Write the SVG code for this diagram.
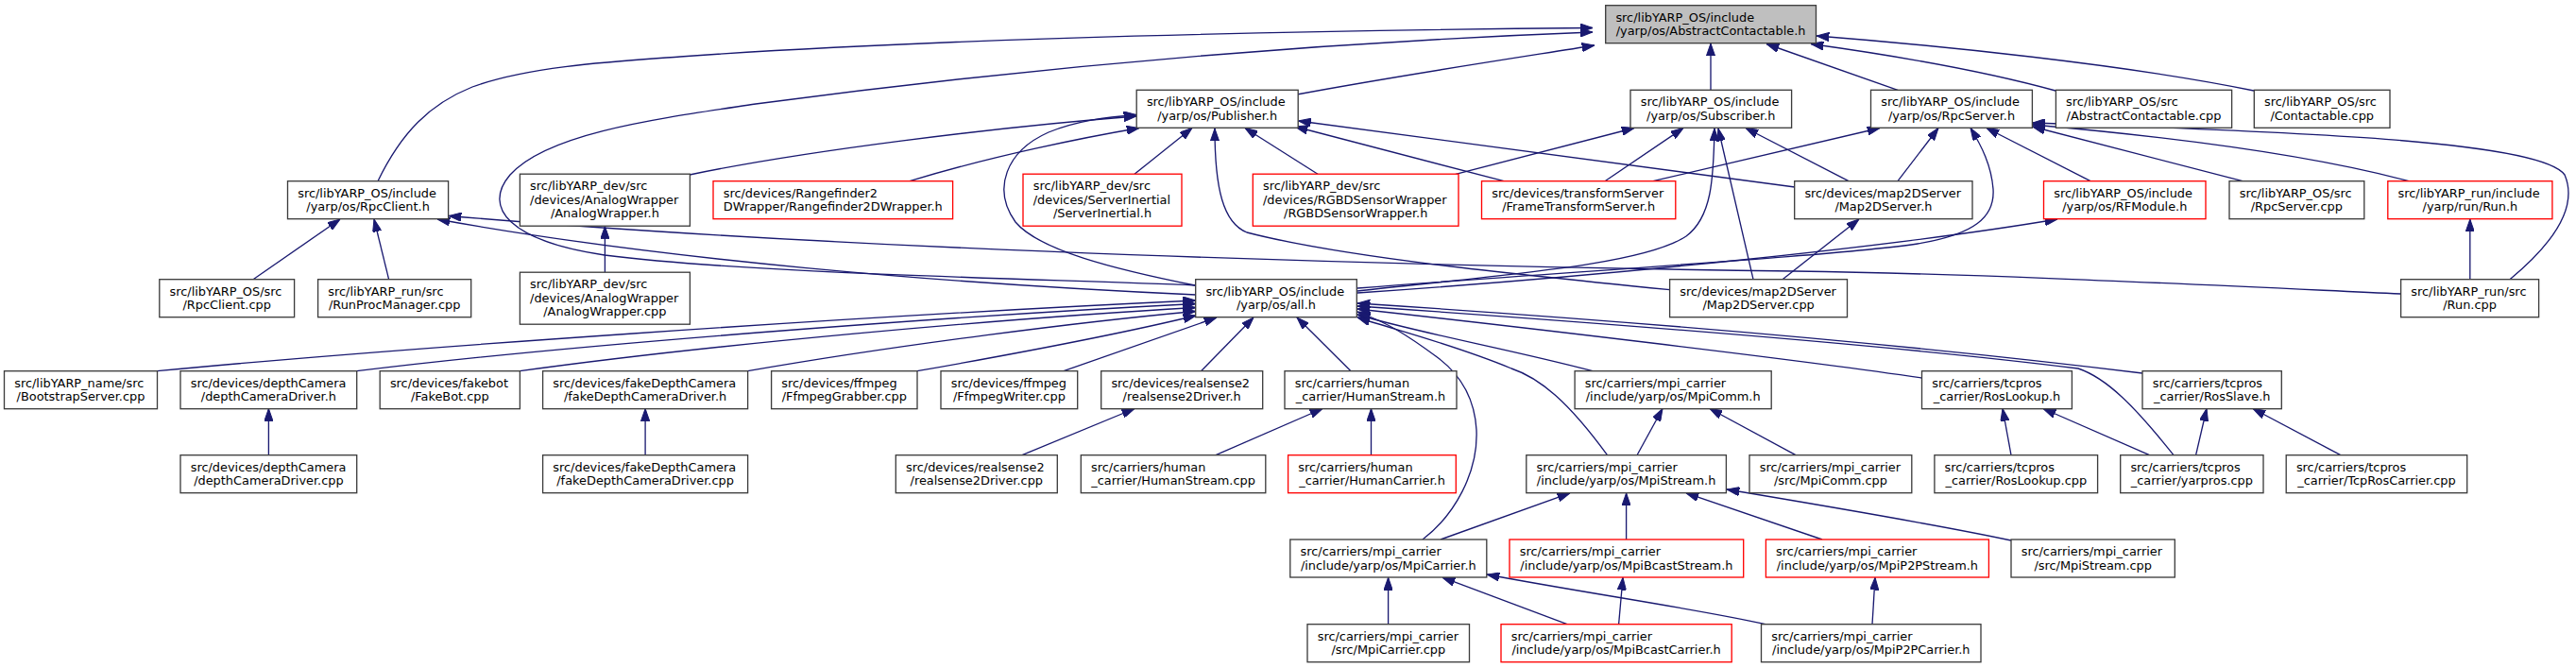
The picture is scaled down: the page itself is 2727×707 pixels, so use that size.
<svg xmlns="http://www.w3.org/2000/svg" width="2727" height="707" viewBox="0 0 2727 707">
<defs>
<style>
.n rect{fill:#fff;stroke:#3c3c3c;stroke-width:1.33}
.n.r rect{stroke:#f00}
.n.g rect{fill:#bfbfbf}
text{font-family:"DejaVu Sans",sans-serif;font-size:12.9px;fill:#000}
text.m{text-anchor:middle}
#edges path{fill:none;stroke:#191970;stroke-width:1.33;marker-end:url(#a)}
</style>
<marker id="a" markerUnits="userSpaceOnUse" viewBox="0 0 13.3 9.3" refX="13.3" refY="4.65" markerWidth="13.3" markerHeight="9.3" orient="auto"><path d="M0,0 L13.3,4.65 L0,9.3 z" fill="#191970" stroke="#191970" stroke-width="1"/></marker>
</defs>
<rect width="2727" height="707" fill="#fff"/>
<g id="edges">
<path d="M400,191.7 C425,140 455,110 500,92 C560,70 650,65 720,60 C1000,40 1400,32 1686,29.5"/>
<path d="M1265.7,302 C1100,295 800,290 640,270 C540,255 510,220 540,185 C580,140 700,125 800,110 C1100,70 1400,45 1686,34"/>
<path d="M1373,100 C1480,80 1600,62 1688,48"/>
<path d="M1811,95.3 L1811,46"/>
<path d="M2009,95.3 L1870,46.5"/>
<path d="M2176,96 C2100,75 2000,58 1917,46.5"/>
<path d="M2386,96 C2250,68 2050,48 1923,38"/>
<path d="M730,185 C850,160 1050,135 1203,123"/>
<path d="M963,191.7 C1050,165 1150,145 1206,135.5"/>
<path d="M1265,302 C1180,285 1100,265 1075,235 C1050,200 1065,160 1110,140 C1140,128 1170,124 1203,121.5"/>
<path d="M1201,184.3 L1262,135.5"/>
<path d="M1767.6,306.7 C1600,290 1420,272 1320,246 C1295,236 1286,200 1286,136"/>
<path d="M1395,184.3 L1318,135.5"/>
<path d="M1592,191.7 L1371,134"/>
<path d="M1900,198 L1374.5,128"/>
<path d="M1541,184.3 L1730,135.5"/>
<path d="M1699,191.7 L1782,135.5"/>
<path d="M1437,308 C1600,290 1740,280 1785,250 C1812,230 1814,190 1815,136"/>
<path d="M1856,295.7 L1819,136"/>
<path d="M1957,191.7 L1848,135.5"/>
<path d="M1750,191.7 L1990,135.5"/>
<path d="M2009,191.7 L2052,135.5"/>
<path d="M1437,305 C1700,285 1950,270 2030,258 C2090,248 2112,230 2110,200 C2108,175 2098,155 2086,135.5"/>
<path d="M2213,191.7 L2103,135.5"/>
<path d="M2374,191.7 L2151.5,134"/>
<path d="M2550,191.7 C2450,165 2300,145 2151.5,132"/>
<path d="M2657,295.7 C2700,260 2730,220 2715,185 C2690,150 2450,140 2151.5,130"/>
<path d="M1437,310 C1700,292 2000,262 2178,232"/>
<path d="M268,295.7 L360,232"/>
<path d="M411.6,295.7 L396,232"/>
<path d="M1266,312 C1000,300 700,275 463,232"/>
<path d="M2541.6,311 C2300,300 2100,290 1900,287 C1500,282 900,265 475,228.5"/>
<path d="M1887,295.7 L1968,232"/>
<path d="M2614.8,295.7 L2614.8,232"/>
<path d="M640.4,288.2 L640.4,239.5"/>
<path d="M166.5,392.7 C400,370 900,335 1265.7,318"/>
<path d="M377.7,392.7 C600,365 1000,335 1265.7,321.5"/>
<path d="M550.4,392.7 C750,365 1050,338 1265.7,325.5"/>
<path d="M791.6,392.7 C950,365 1150,340 1265.7,329.5"/>
<path d="M971,392.7 C1100,370 1200,350 1266,334"/>
<path d="M1126,392.7 L1288,336"/>
<path d="M1271.5,392.7 L1327,336"/>
<path d="M1430,392.7 L1373,336"/>
<path d="M1686,392.7 C1600,370 1500,352 1437,333"/>
<path d="M1701.5,481.7 C1660,425 1630,400 1600,390 C1540,365 1480,350 1437,336"/>
<path d="M1506,571 C1540,545 1565,500 1563,455 C1561,420 1545,395 1520,377 C1490,355 1470,342 1437,330"/>
<path d="M2034.5,400 C1900,380 1600,345 1437,327"/>
<path d="M2268,395 C2000,362 1700,338 1437,321"/>
<path d="M2301,481.7 C2260,430 2230,400 2200,390 C2000,365 1700,342 1437,324"/>
<path d="M284.4,481.7 L284.4,432.5"/>
<path d="M683.1,481.7 L683.1,432.5"/>
<path d="M1082,481.7 L1201,432.5"/>
<path d="M1287,481.7 L1400,432.5"/>
<path d="M1451.5,481.7 L1451.5,432.5"/>
<path d="M1733,481.7 L1760,432.5"/>
<path d="M1901,481.7 L1810,432.5"/>
<path d="M2129,481.7 L2120,432.5"/>
<path d="M2275.5,481.7 L2163,432.5"/>
<path d="M2324.6,481.7 L2336,432.5"/>
<path d="M2477.8,481.7 L2385,432.5"/>
<path d="M1525,571 L1662,521.9"/>
<path d="M1721.6,571 L1721.6,521.9"/>
<path d="M1929,571 L1785,521.9"/>
<path d="M2129,572 C2050,555 1930,535 1828,518"/>
<path d="M1469.6,660.7 L1469.6,611.2"/>
<path d="M1659,660.7 L1527,611.2"/>
<path d="M1713.6,660.7 L1718,611.2"/>
<path d="M1869,660.7 C1800,645 1680,628 1574,608"/>
<path d="M1982,660.7 L1985,611.2"/>
</g>
<g id="n1" class="n g"><rect x="1699.7" y="5.7" width="222.8" height="40"/><text x="1710.4" y="22.5">src/libYARP_OS/include</text><text class="m" x="1811.1" y="37.2">/yarp/os/AbstractContactable.h</text></g>
<g id="n2" class="n"><rect x="1203.2" y="95.3" width="171" height="40"/><text x="1213.9" y="112.1">src/libYARP_OS/include</text><text class="m" x="1288.7" y="126.8">/yarp/os/Publisher.h</text></g>
<g id="n3" class="n"><rect x="1726" y="95.3" width="170.6" height="40"/><text x="1736.7" y="112.1">src/libYARP_OS/include</text><text class="m" x="1811.3" y="126.8">/yarp/os/Subscriber.h</text></g>
<g id="n4" class="n"><rect x="1980.5" y="95.3" width="170.9" height="40"/><text x="1991.2" y="112.1">src/libYARP_OS/include</text><text class="m" x="2066" y="126.8">/yarp/os/RpcServer.h</text></g>
<g id="n5" class="n"><rect x="2176.4" y="95.3" width="186.2" height="40"/><text x="2187.1" y="112.1">src/libYARP_OS/src</text><text class="m" x="2269.5" y="126.8">/AbstractContactable.cpp</text></g>
<g id="n6" class="n"><rect x="2386.3" y="95.3" width="143.7" height="40"/><text x="2397" y="112.1">src/libYARP_OS/src</text><text class="m" x="2458.2" y="126.8">/Contactable.cpp</text></g>
<g id="n7" class="n"><rect x="304.5" y="191.7" width="170.1" height="40"/><text x="315.2" y="208.5">src/libYARP_OS/include</text><text class="m" x="389.6" y="223.2">/yarp/os/RpcClient.h</text></g>
<g id="n8" class="n"><rect x="550.4" y="184.2" width="180" height="55"/><text x="561.1" y="201">src/libYARP_dev/src</text><text x="561.1" y="215.7">/devices/AnalogWrapper</text><text class="m" x="640.4" y="230.4">/AnalogWrapper.h</text></g>
<g id="n9" class="n r"><rect x="755" y="191.7" width="253.6" height="40"/><text x="765.7" y="208.5">src/devices/Rangefinder2</text><text class="m" x="881.8" y="223.2">DWrapper/Rangefinder2DWrapper.h</text></g>
<g id="n10" class="n r"><rect x="1083" y="184.2" width="168" height="55"/><text x="1093.7" y="201">src/libYARP_dev/src</text><text x="1093.7" y="215.7">/devices/ServerInertial</text><text class="m" x="1167" y="230.4">/ServerInertial.h</text></g>
<g id="n11" class="n r"><rect x="1326.3" y="184.2" width="217.7" height="55"/><text x="1337" y="201">src/libYARP_dev/src</text><text x="1337" y="215.7">/devices/RGBDSensorWrapper</text><text class="m" x="1435.2" y="230.4">/RGBDSensorWrapper.h</text></g>
<g id="n12" class="n r"><rect x="1568.5" y="191.7" width="205.3" height="40"/><text x="1579.2" y="208.5">src/devices/transformServer</text><text class="m" x="1671.2" y="223.2">/FrameTransformServer.h</text></g>
<g id="n13" class="n"><rect x="1899.7" y="191.7" width="188.3" height="40"/><text x="1910.4" y="208.5">src/devices/map2DServer</text><text class="m" x="1993.9" y="223.2">/Map2DServer.h</text></g>
<g id="n14" class="n r"><rect x="2163.5" y="191.7" width="171.5" height="40"/><text x="2174.2" y="208.5">src/libYARP_OS/include</text><text class="m" x="2249.3" y="223.2">/yarp/os/RFModule.h</text></g>
<g id="n15" class="n"><rect x="2360" y="191.7" width="142.8" height="40"/><text x="2370.7" y="208.5">src/libYARP_OS/src</text><text class="m" x="2431.4" y="223.2">/RpcServer.cpp</text></g>
<g id="n16" class="n r"><rect x="2527.8" y="191.7" width="174.1" height="40"/><text x="2538.5" y="208.5">src/libYARP_run/include</text><text class="m" x="2614.9" y="223.2">/yarp/run/Run.h</text></g>
<g id="n17" class="n"><rect x="168.8" y="295.7" width="142.8" height="40"/><text x="179.5" y="312.5">src/libYARP_OS/src</text><text class="m" x="240.2" y="327.2">/RpcClient.cpp</text></g>
<g id="n18" class="n"><rect x="336.6" y="295.7" width="162.1" height="40"/><text x="347.3" y="312.5">src/libYARP_run/src</text><text class="m" x="417.7" y="327.2">/RunProcManager.cpp</text></g>
<g id="n19" class="n"><rect x="550.4" y="288.2" width="180" height="55"/><text x="561.1" y="305">src/libYARP_dev/src</text><text x="561.1" y="319.7">/devices/AnalogWrapper</text><text class="m" x="640.4" y="334.4">/AnalogWrapper.cpp</text></g>
<g id="n20" class="n"><rect x="1265.7" y="295.7" width="170.6" height="40"/><text x="1276.4" y="312.5">src/libYARP_OS/include</text><text class="m" x="1351" y="327.2">/yarp/os/all.h</text></g>
<g id="n21" class="n"><rect x="1767.6" y="295.7" width="187.9" height="40"/><text x="1778.3" y="312.5">src/devices/map2DServer</text><text class="m" x="1861.6" y="327.2">/Map2DServer.cpp</text></g>
<g id="n22" class="n"><rect x="2541.6" y="295.7" width="146" height="40"/><text x="2552.3" y="312.5">src/libYARP_run/src</text><text class="m" x="2614.6" y="327.2">/Run.cpp</text></g>
<g id="n23" class="n"><rect x="4.5" y="392.7" width="162" height="40"/><text x="15.2" y="409.5">src/libYARP_name/src</text><text class="m" x="85.5" y="424.2">/BootstrapServer.cpp</text></g>
<g id="n24" class="n"><rect x="191" y="392.7" width="186.7" height="40"/><text x="201.7" y="409.5">src/devices/depthCamera</text><text class="m" x="284.4" y="424.2">/depthCameraDriver.h</text></g>
<g id="n25" class="n"><rect x="402.2" y="392.7" width="148.2" height="40"/><text x="412.9" y="409.5">src/devices/fakebot</text><text class="m" x="476.3" y="424.2">/FakeBot.cpp</text></g>
<g id="n26" class="n"><rect x="574.6" y="392.7" width="217" height="40"/><text x="585.3" y="409.5">src/devices/fakeDepthCamera</text><text class="m" x="683.1" y="424.2">/fakeDepthCameraDriver.h</text></g>
<g id="n27" class="n"><rect x="816.6" y="392.7" width="154.4" height="40"/><text x="827.3" y="409.5">src/devices/ffmpeg</text><text class="m" x="893.8" y="424.2">/FfmpegGrabber.cpp</text></g>
<g id="n28" class="n"><rect x="996" y="392.7" width="144.7" height="40"/><text x="1006.7" y="409.5">src/devices/ffmpeg</text><text class="m" x="1068.4" y="424.2">/FfmpegWriter.cpp</text></g>
<g id="n29" class="n"><rect x="1165.7" y="392.7" width="171" height="40"/><text x="1176.4" y="409.5">src/devices/realsense2</text><text class="m" x="1251.2" y="424.2">/realsense2Driver.h</text></g>
<g id="n30" class="n"><rect x="1360" y="392.7" width="182" height="40"/><text x="1370.7" y="409.5">src/carriers/human</text><text class="m" x="1451" y="424.2">_carrier/HumanStream.h</text></g>
<g id="n31" class="n"><rect x="1667.1" y="392.7" width="208.1" height="40"/><text x="1677.8" y="409.5">src/carriers/mpi_carrier</text><text class="m" x="1771.2" y="424.2">/include/yarp/os/MpiComm.h</text></g>
<g id="n32" class="n"><rect x="2034.5" y="392.7" width="158.9" height="40"/><text x="2045.2" y="409.5">src/carriers/tcpros</text><text class="m" x="2114" y="424.2">_carrier/RosLookup.h</text></g>
<g id="n33" class="n"><rect x="2268" y="392.7" width="147.3" height="40"/><text x="2278.7" y="409.5">src/carriers/tcpros</text><text class="m" x="2341.7" y="424.2">_carrier/RosSlave.h</text></g>
<g id="n34" class="n"><rect x="191" y="481.7" width="186.7" height="40"/><text x="201.7" y="498.5">src/devices/depthCamera</text><text class="m" x="284.4" y="513.2">/depthCameraDriver.cpp</text></g>
<g id="n35" class="n"><rect x="574.6" y="481.7" width="217" height="40"/><text x="585.3" y="498.5">src/devices/fakeDepthCamera</text><text class="m" x="683.1" y="513.2">/fakeDepthCameraDriver.cpp</text></g>
<g id="n36" class="n"><rect x="948.3" y="481.7" width="171" height="40"/><text x="959" y="498.5">src/devices/realsense2</text><text class="m" x="1033.8" y="513.2">/realsense2Driver.cpp</text></g>
<g id="n37" class="n"><rect x="1144.3" y="481.7" width="195.5" height="40"/><text x="1155" y="498.5">src/carriers/human</text><text class="m" x="1242.1" y="513.2">_carrier/HumanStream.cpp</text></g>
<g id="n38" class="n r"><rect x="1363.6" y="481.7" width="177.7" height="40"/><text x="1374.3" y="498.5">src/carriers/human</text><text class="m" x="1452.5" y="513.2">_carrier/HumanCarrier.h</text></g>
<g id="n39" class="n"><rect x="1615.8" y="481.7" width="211.6" height="40"/><text x="1626.5" y="498.5">src/carriers/mpi_carrier</text><text class="m" x="1721.6" y="513.2">/include/yarp/os/MpiStream.h</text></g>
<g id="n40" class="n"><rect x="1852" y="481.7" width="171.8" height="40"/><text x="1862.7" y="498.5">src/carriers/mpi_carrier</text><text class="m" x="1937.9" y="513.2">/src/MpiComm.cpp</text></g>
<g id="n41" class="n"><rect x="2047.9" y="481.7" width="172.7" height="40"/><text x="2058.6" y="498.5">src/carriers/tcpros</text><text class="m" x="2134.3" y="513.2">_carrier/RosLookup.cpp</text></g>
<g id="n42" class="n"><rect x="2244.7" y="481.7" width="151.3" height="40"/><text x="2255.4" y="498.5">src/carriers/tcpros</text><text class="m" x="2320.4" y="513.2">_carrier/yarpros.cpp</text></g>
<g id="n43" class="n"><rect x="2420.2" y="481.7" width="191.5" height="40"/><text x="2430.9" y="498.5">src/carriers/tcpros</text><text class="m" x="2516" y="513.2">_carrier/TcpRosCarrier.cpp</text></g>
<g id="n44" class="n"><rect x="1365.8" y="571" width="208" height="40"/><text x="1376.5" y="587.8">src/carriers/mpi_carrier</text><text class="m" x="1469.8" y="602.5">/include/yarp/os/MpiCarrier.h</text></g>
<g id="n45" class="n r"><rect x="1598" y="571" width="247.7" height="40"/><text x="1608.7" y="587.8">src/carriers/mpi_carrier</text><text class="m" x="1721.9" y="602.5">/include/yarp/os/MpiBcastStream.h</text></g>
<g id="n46" class="n r"><rect x="1869.4" y="571" width="236" height="40"/><text x="1880.1" y="587.8">src/carriers/mpi_carrier</text><text class="m" x="1987.4" y="602.5">/include/yarp/os/MpiP2PStream.h</text></g>
<g id="n47" class="n"><rect x="2129" y="571" width="173.3" height="40"/><text x="2139.7" y="587.8">src/carriers/mpi_carrier</text><text class="m" x="2215.7" y="602.5">/src/MpiStream.cpp</text></g>
<g id="n48" class="n"><rect x="1384" y="660.7" width="171.5" height="40"/><text x="1394.7" y="677.5">src/carriers/mpi_carrier</text><text class="m" x="1469.8" y="692.2">/src/MpiCarrier.cpp</text></g>
<g id="n49" class="n r"><rect x="1589" y="660.7" width="244.2" height="40"/><text x="1599.7" y="677.5">src/carriers/mpi_carrier</text><text class="m" x="1711.1" y="692.2">/include/yarp/os/MpiBcastCarrier.h</text></g>
<g id="n50" class="n"><rect x="1864.5" y="660.7" width="232.5" height="40"/><text x="1875.2" y="677.5">src/carriers/mpi_carrier</text><text class="m" x="1980.8" y="692.2">/include/yarp/os/MpiP2PCarrier.h</text></g>
</svg>
